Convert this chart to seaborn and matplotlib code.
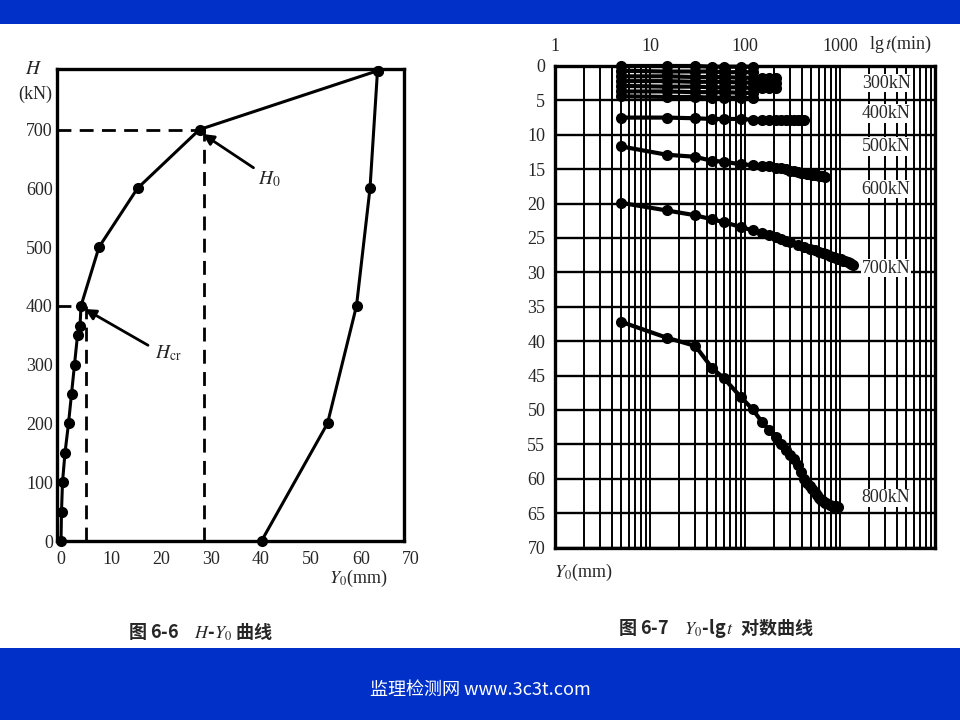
import numpy as np
import pandas as pd
import matplotlib
matplotlib.use("Agg")
import matplotlib.pyplot as plt
import seaborn as sns
from matplotlib.patches import Rectangle
from matplotlib.ticker import LogLocator, NullFormatter

sns.set_theme(style="white")
plt.rcParams["font.family"] = ["Liberation Serif", "Noto Sans CJK SC", "DejaVu Sans"]
plt.rcParams["mathtext.fontset"] = "stix"

# %% data - fig 6-6 (H - Y0)
load_kn = [0, 50, 100, 150, 200, 250, 300, 350, 365, 400, 500, 600, 700, 800]
y0_load = [0.0, 0.1, 0.3, 0.8, 1.5, 2.1, 2.7, 3.3, 3.8, 4.0, 7.6, 15.3, 27.7, 63.3]
unload_kn = [800, 600, 400, 200, 0]
y0_unload = [63.3, 61.8, 59.1, 53.3, 40.1]
h_u, h_cr = 700, 400
y0_hu_line, y0_hcr_line = 28.6, 5.0
h_ticks = [0, 100, 200, 300, 400, 500, 600, 700]
y0_ticks = [0, 10, 20, 30, 40, 50, 60, 70]

# %% data - fig 6-7 (Y0 - lg t)
t_short = [5, 15, 30, 45, 60, 90, 120]
t_long = [5, 15, 30, 45, 60, 90, 120, 150, 180, 210]
y_50 = [0.0, 0.0, 0.0, 0.1, 0.1, 0.1, 0.1]
y_100 = [0.7, 0.8, 0.8, 0.8, 0.9, 0.9, 0.9]
y_150 = [1.5, 1.5, 1.6, 1.6, 1.6, 1.7, 1.7, 1.8, 1.8, 1.8]
y_200 = [2.2, 2.2, 2.3, 2.3, 2.3, 2.4, 2.4, 2.5, 2.5, 2.5]
y_250 = [2.9, 3.0, 3.0, 3.1, 3.1, 3.1, 3.2, 3.2, 3.2, 3.2]
y_300 = [3.7, 3.7, 3.8, 3.8, 3.8, 3.9, 3.9]
y_400 = [4.4, 4.5, 4.5, 4.6, 4.6, 4.6, 4.7]

t_500 = [5, 15, 30, 45, 60, 90, 120, 150, 180, 210, 240, 270, 300, 330, 360, 390, 420]
y_500 = [7.5, 7.5, 7.6, 7.7, 7.7, 7.7, 7.8, 7.8, 7.8, 7.8, 7.8, 7.8, 7.9, 7.9, 7.9, 7.9, 7.9]

t_600 = [5, 15, 30, 45, 60, 90, 120, 150, 180, 210, 240, 270, 300, 330, 360, 390,
         420, 450, 480, 510, 540, 570, 600, 630, 660, 690]
y_600 = [11.7, 12.9, 13.2, 13.8, 13.9, 14.3, 14.4, 14.5, 14.6, 14.8, 14.9, 15.0, 15.2,
         15.3, 15.4, 15.5, 15.6, 15.7, 15.75, 15.8, 15.85, 15.9, 15.95, 16.0, 16.05, 16.1]

t_700 = [5, 15, 30, 45, 60, 90, 120, 150, 180, 210, 240, 270, 300, 360, 420, 480, 540,
         600, 660, 720, 780, 840, 900, 960, 1020, 1080, 1140, 1200, 1260, 1320, 1380]
y_700 = [19.9, 21.0, 21.7, 22.3, 22.7, 23.4, 23.9, 24.3, 24.6, 24.9, 25.1, 25.4, 25.6,
         26.0, 26.3, 26.6, 26.8, 27.0, 27.2, 27.4, 27.6, 27.7, 27.9, 28.0, 28.1, 28.3,
         28.4, 28.5, 28.6, 28.8, 28.9]

t_800 = [5, 15, 30, 45, 60, 90, 120, 150, 180, 210, 240, 270, 300, 330, 360, 390, 420,
         450, 480, 510, 540, 570, 600, 630, 660, 690, 720, 780, 840, 900, 960]
y_800 = [37.2, 39.5, 40.7, 43.9, 45.4, 48.1, 49.9, 51.7, 52.9, 54.0, 55.0, 55.8, 56.5,
         57.1, 58.0, 59.0, 60.0, 60.6, 61.1, 61.5, 62.0, 62.4, 62.8, 63.1, 63.3, 63.5,
         63.6, 63.8, 63.9, 64.0, 64.1]

curve_labels = ["300kN", "400kN", "500kN", "600kN", "700kN", "800kN"]
label_t = [3050, 3050, 3050, 3050, 3050, 3050]
label_y0 = [2.5, 6.9, 11.7, 17.9, 29.4, 62.8]
t_ticks = [1, 10, 100, 1000]
y0_ticks_r = list(range(0, 71, 5))

series = [(50, t_short, y_50), (100, t_short, y_100), (150, t_long, y_150),
          (200, t_long, y_200), (250, t_long, y_250), (300, t_short, y_300),
          (400, t_short, y_400), (500, t_500, y_500), (600, t_600, y_600),
          (700, t_700, y_700), (800, t_800, y_800)]
df_r = pd.concat([pd.DataFrame({"t": t, "y0": y, "load": k}) for k, t, y in series],
                 ignore_index=True)

# %% figure
fig = plt.figure(figsize=(9.6, 7.2), dpi=100)
fig.patch.set_facecolor("white")
blue = "#0030c8"
fig.add_artist(Rectangle((0, 1 - 24 / 720), 1, 24 / 720, transform=fig.transFigure,
                         facecolor=blue, edgecolor="none", zorder=-5))
fig.add_artist(Rectangle((0, 0), 1, 72 / 720, transform=fig.transFigure,
                         facecolor=blue, edgecolor="none", zorder=-5))

# --- left chart
ax1 = fig.add_axes([57 / 960, 1 - 541 / 720, 347 / 960, 472 / 720])
sns.lineplot(x=y0_load, y=load_kn, sort=False, estimator=None, color="black",
             marker="o", markersize=8, markeredgewidth=0, lw=2.2, clip_on=False, ax=ax1)
sns.lineplot(x=y0_unload, y=unload_kn, sort=False, estimator=None, color="black",
             marker="o", markersize=8, markeredgewidth=0, lw=2.2, clip_on=False, ax=ax1)
dash = (0, (5, 3))
x_hu = y0_load[load_kn.index(h_u)]
x_hcr = y0_load[load_kn.index(h_cr)]
ax1.plot([-0.8, x_hu], [h_u, h_u], ls=dash, color="black", lw=2)
ax1.plot([y0_hu_line, y0_hu_line], [0, h_u], ls=dash, color="black", lw=2)
ax1.plot([-0.8, x_hcr], [h_cr, h_cr], ls=dash, color="black", lw=2)
ax1.plot([y0_hcr_line, y0_hcr_line], [0, h_cr], ls=dash, color="black", lw=2)

arrow = dict(arrowstyle="-|>", color="black", lw=2, mutation_scale=16, shrinkA=0, shrinkB=2)
ax1.annotate("", xy=(x_hu + 0.2, h_u - 5), xytext=(38.5, 635), arrowprops=arrow)
ax1.text(39.4, 616, "$H_0$", ha="left", va="center", fontsize=14)
ax1.annotate("", xy=(x_hcr + 0.3, h_cr - 3), xytext=(17.4, 333), arrowprops=arrow)
ax1.text(18.8, 320, r"$H_{\mathrm{cr}}$", ha="left", va="center", fontsize=14)

ax1.set_xlim(-0.8, 68.6)
ax1.set_ylim(0, 803)
ax1.set_xticks(y0_ticks[:-1])
ax1.set_xticklabels([str(v) for v in y0_ticks[:-1]])
ax1.text(y0_ticks[-1], -0.022, str(y0_ticks[-1]), transform=ax1.get_xaxis_transform(),
         ha="center", va="top", fontsize=13)
ax1.set_yticks(h_ticks)
ax1.set_yticklabels([str(v) for v in h_ticks])
ax1.tick_params(axis="both", length=0, labelsize=13)
ax1.tick_params(axis="x", pad=7)
ax1.tick_params(axis="y", pad=3)
for s in ax1.spines.values():
    s.set_linewidth(2.4)
    s.set_color("black")
ax1.set_xlabel("")
ax1.set_ylabel("")

fig.text(34 / 960, 1 - 70 / 720, "$H$", ha="center", va="center", fontsize=14)
fig.text(35 / 960, 1 - 94 / 720, "(kN)", ha="center", va="center", fontsize=13)
fig.text(358 / 960, 1 - 578 / 720, "$Y_0$(mm)", ha="center", va="center", fontsize=13)

# --- right chart
ax2 = fig.add_axes([555 / 960, 1 - 547.5 / 720, 380 / 960, 481.5 / 720])
ax2.set_xscale("log")
sns.lineplot(data=df_r, x="t", y="y0", units="load", estimator=None, sort=False,
             color="black", marker="o", markersize=8, markeredgewidth=0,
             lw=3, clip_on=False, ax=ax2)
ax2.set_xlim(1, 1e4)
ax2.set_ylim(70, 0)
ax2.xaxis.set_minor_locator(LogLocator(base=10, subs=np.arange(2, 10) * 1.0, numticks=50))
ax2.xaxis.set_minor_formatter(NullFormatter())
ax2.set_xticks(t_ticks)
ax2.set_xticklabels([str(v) for v in t_ticks])
ax2.get_xticklabels()[-1].set_horizontalalignment("right")
ax2.xaxis.tick_top()
ax2.set_yticks(y0_ticks_r)
ax2.set_yticklabels([str(v) for v in y0_ticks_r])
ax2.tick_params(axis="both", which="both", length=0, labelsize=13)
ax2.tick_params(axis="x", pad=8)
ax2.tick_params(axis="y", pad=7)
ax2.grid(True, which="both", axis="x", color="black", lw=1.4)
ax2.grid(True, which="major", axis="y", color="black", lw=1.7)
for s in ax2.spines.values():
    s.set_linewidth(2.4)
    s.set_color("black")
ax2.set_xlabel("")
ax2.set_ylabel("")
for lab, tx, ty in zip(curve_labels, label_t, label_y0):
    ax2.text(tx, ty, lab, ha="center", va="center", fontsize=13, zorder=6,
             bbox=dict(facecolor="white", edgecolor="none", pad=0.5))

fig.text(900 / 960, 1 - 44 / 720, r"lg$\,t$(min)", ha="center", va="center", fontsize=13)
fig.text(583 / 960, 1 - 572 / 720, "$Y_0$(mm)", ha="center", va="center", fontsize=13)

# --- captions and footer
cjk = ["Noto Sans CJK SC", "DejaVu Sans"]
fig.text(128 / 960, 1 - 632 / 720, "图 6-6    $H$-$Y_0$ 曲线", ha="left", va="center",
         fontsize=13, family=cjk, weight="bold")
fig.text(618 / 960, 1 - 628 / 720, "图 6-7    $Y_0$-lg$\\,t$  对数曲线", ha="left",
         va="center", fontsize=13, family=cjk, weight="bold")
fig.text(0.5, 1 - 690 / 720, "监理检测网 www.3c3t.com", ha="center", va="center",
         fontsize=13, color="white", family=cjk)

fig.savefig("out.png", dpi=100)
